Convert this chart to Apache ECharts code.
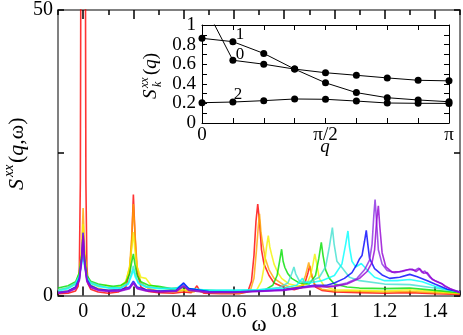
<!DOCTYPE html>
<html>
<head>
<meta charset="utf-8">
<script src="https://cdn.jsdelivr.net/npm/echarts/dist/echarts.min.js"></script>
<style>
  body { margin: 0; background: #fff; }
  #chart { width: 463px; height: 335px; }
</style>
</head>
<body>
<div id="chart"></div>
<script>
// S^xx(q,w) spectra, one curve per q = k*pi/8, pairs of [omega, S]
const sRed = [[-0.1,0.3],[-0.06,0.4],[-0.03,0.8],[-0.02,1.6],[-0.015,5],[-0.011,20],[-0.009,60],[0.009,60],[0.011,20],[0.015,5],[0.02,2],[0.03,1.1],[0.06,0.6],[0.1,0.4],[0.14,0.6],[0.17,1.5],[0.185,4],[0.193,9],[0.2,17.7],[0.207,10],[0.215,4],[0.23,1.5],[0.26,0.7],[0.3,0.5],[0.36,0.4],[0.4,0.6],[0.43,0.5],[0.445,1.2],[0.453,1.7],[0.462,1.0],[0.48,0.4],[0.55,0.3],[0.62,0.3],[0.655,0.6],[0.67,2.5],[0.68,7],[0.688,13],[0.695,16],[0.702,13],[0.71,8],[0.72,5.5],[0.74,3.5],[0.76,2.2],[0.8,1.4],[0.84,1.0],[0.87,1.4],[0.885,2.5],[0.895,4],[0.902,5.2],[0.91,3.5],[0.925,1.5],[0.95,0.9],[1.0,0.6],[1.1,0.5],[1.2,0.4],[1.3,0.5],[1.4,0.3],[1.5,0.2]];
const sOrange = [[-0.1,0.6],[-0.06,0.8],[-0.03,1.4],[-0.015,3],[-0.006,8],[0,15.3],[0.006,8],[0.015,3.2],[0.03,1.8],[0.06,1.2],[0.1,0.9],[0.14,1.0],[0.17,2.2],[0.185,5],[0.193,10],[0.2,16],[0.207,10.5],[0.215,5],[0.23,2.2],[0.26,1.2],[0.3,0.8],[0.36,0.6],[0.4,0.9],[0.44,0.6],[0.453,1.0],[0.47,0.6],[0.55,0.4],[0.62,0.4],[0.665,0.8],[0.68,3],[0.69,8],[0.697,12],[0.702,14.3],[0.708,11],[0.715,9],[0.725,6.5],[0.74,4.5],[0.76,3],[0.8,1.8],[0.84,1.3],[0.87,1.8],[0.885,3.5],[0.898,5.8],[0.906,4.2],[0.92,2],[0.95,1.1],[1.0,0.8],[1.1,0.7],[1.2,0.6],[1.3,0.7],[1.4,0.5],[1.5,0.3]];
const sYellow = [[-0.1,1.0],[-0.06,1.3],[-0.03,2],[-0.015,4],[-0.006,8],[0,12.5],[0.006,7.5],[0.015,3.5],[0.03,2.2],[0.06,1.6],[0.09,1.8],[0.12,1.4],[0.15,1.6],[0.17,2.5],[0.185,5],[0.194,8.5],[0.2,11.1],[0.206,8],[0.215,5],[0.23,3.2],[0.25,3.0],[0.27,1.8],[0.3,1.4],[0.35,1.0],[0.4,1.0],[0.45,0.8],[0.55,0.6],[0.65,0.6],[0.69,0.9],[0.71,2.5],[0.722,5.5],[0.73,8.5],[0.737,10.5],[0.743,8.5],[0.75,7.2],[0.76,5.5],[0.775,4],[0.79,3],[0.82,2],[0.86,1.6],[0.89,2],[0.905,3.5],[0.915,5.5],[0.922,7.3],[0.93,5.5],[0.94,3],[0.96,1.6],[1.0,1.0],[1.1,0.9],[1.2,0.8],[1.3,1.0],[1.4,0.7],[1.5,0.4]];
const sGreen = [[-0.1,1.3],[-0.06,1.7],[-0.03,2.4],[-0.015,4],[-0.006,7],[0,9],[0.006,6.5],[0.015,3.5],[0.03,2.5],[0.06,2],[0.09,1.8],[0.12,1.6],[0.15,1.8],[0.17,2.3],[0.185,3.8],[0.194,6],[0.2,7.3],[0.206,5.5],[0.215,3.5],[0.23,2.4],[0.26,1.8],[0.3,1.6],[0.35,1.2],[0.4,1.4],[0.45,1.0],[0.55,0.8],[0.65,0.7],[0.72,0.9],[0.755,1.8],[0.772,3.5],[0.782,6],[0.79,8.1],[0.796,6],[0.803,4.9],[0.815,3.8],[0.83,3],[0.86,2.2],[0.9,2],[0.925,3.5],[0.938,6.5],[0.948,9.3],[0.955,7],[0.965,4.5],[0.98,3],[1.0,2],[1.05,1.5],[1.1,1.3],[1.2,1.2],[1.3,1.3],[1.4,0.9],[1.5,0.5]];
const sTurq = [[-0.1,1.0],[-0.06,1.4],[-0.03,2.2],[-0.015,3.5],[-0.006,6],[0,7.5],[0.006,5.5],[0.015,3.2],[0.03,2.3],[0.06,1.8],[0.1,1.4],[0.15,1.4],[0.18,2.2],[0.193,4],[0.2,5.2],[0.207,3.8],[0.22,2.3],[0.25,1.6],[0.3,1.3],[0.37,1.2],[0.4,1.8],[0.42,1.1],[0.5,0.9],[0.6,0.9],[0.7,1.0],[0.78,1.4],[0.815,2.2],[0.83,3.8],[0.839,5],[0.846,3.8],[0.86,2.6],[0.88,2.2],[0.91,2.6],[0.94,3.2],[0.965,5],[0.98,8.5],[0.992,11.9],[0.999,9],[1.01,6],[1.03,4.9],[1.06,3.2],[1.1,2.6],[1.2,2.0],[1.3,1.9],[1.4,1.3],[1.5,0.6]];
const sCyan = [[-0.1,0.8],[-0.06,1.2],[-0.03,2],[-0.015,3.3],[-0.006,5.5],[0,7],[0.006,5],[0.015,3],[0.03,2.1],[0.06,1.6],[0.1,1.3],[0.15,1.3],[0.18,2],[0.193,3.5],[0.2,4.5],[0.207,3.3],[0.22,2.1],[0.25,1.5],[0.3,1.2],[0.37,1.2],[0.4,2.1],[0.42,1.2],[0.5,0.9],[0.6,0.9],[0.7,1.0],[0.8,1.3],[0.85,1.8],[0.865,2.6],[0.873,3],[0.88,2.4],[0.9,2.2],[0.95,2.6],[1.0,3.5],[1.03,5.5],[1.045,9],[1.054,11.3],[1.06,8.5],[1.07,6],[1.085,5],[1.107,5.6],[1.13,4.5],[1.16,3.2],[1.2,2.6],[1.25,2.6],[1.3,2.8],[1.35,2.4],[1.4,1.6],[1.45,1.0],[1.5,0.6]];
const sBlue = [[-0.1,0.5],[-0.06,0.8],[-0.03,1.5],[-0.015,3],[-0.006,6.5],[0,11],[0.006,6],[0.015,2.8],[0.03,1.7],[0.06,1.1],[0.1,0.9],[0.15,1.0],[0.185,1.5],[0.2,2.5],[0.215,1.5],[0.25,1.0],[0.3,0.8],[0.37,0.9],[0.4,2.2],[0.42,1.2],[0.5,0.7],[0.6,0.6],[0.7,0.8],[0.8,1.0],[0.87,1.5],[0.92,1.8],[0.97,1.8],[1.0,2.2],[1.04,3],[1.07,4],[1.09,5.5],[1.1,6.4],[1.11,7],[1.12,9.5],[1.127,11.4],[1.133,9],[1.14,6.5],[1.16,4.7],[1.19,3.6],[1.22,3],[1.26,3.2],[1.3,3.7],[1.33,3.3],[1.37,2.6],[1.4,2],[1.45,1.1],[1.5,0.6]];
const sViolet = [[-0.1,0.5],[-0.06,0.7],[-0.03,1.3],[-0.015,2.8],[-0.006,6.5],[0,11],[0.006,6],[0.015,2.6],[0.03,1.5],[0.06,1.0],[0.1,0.8],[0.15,0.9],[0.185,1.3],[0.2,2.3],[0.215,1.3],[0.25,0.9],[0.3,0.7],[0.37,0.8],[0.4,1.8],[0.42,1.0],[0.5,0.6],[0.6,0.6],[0.7,0.8],[0.8,1.0],[0.87,1.4],[0.92,1.7],[0.97,1.6],[1.0,1.7],[1.05,2.2],[1.09,3],[1.12,4.5],[1.14,6.2],[1.15,9],[1.157,14],[1.162,16.8],[1.168,13],[1.175,8],[1.19,5.5],[1.21,4.4],[1.24,4],[1.27,4.2],[1.3,4.6],[1.32,4.4],[1.335,4.8],[1.35,4.0],[1.36,4.3],[1.38,3.2],[1.4,2.6],[1.43,2.0],[1.46,1.2],[1.5,0.6]];
const sPurple = [[-0.1,0.4],[-0.06,0.6],[-0.03,1.2],[-0.015,2.6],[-0.006,6],[0,10.5],[0.006,5.5],[0.015,2.4],[0.03,1.4],[0.06,0.9],[0.1,0.7],[0.15,0.8],[0.185,1.2],[0.2,2.1],[0.215,1.2],[0.25,0.8],[0.3,0.6],[0.37,0.7],[0.4,1.6],[0.42,0.9],[0.5,0.5],[0.6,0.5],[0.7,0.7],[0.8,0.9],[0.87,1.3],[0.92,1.6],[0.97,1.5],[1.0,1.6],[1.05,2],[1.1,3],[1.13,4.2],[1.15,5.8],[1.16,8],[1.168,13],[1.175,15.7],[1.181,12],[1.19,7.5],[1.205,5],[1.23,4.1],[1.26,4.2],[1.29,4.5],[1.31,4.6],[1.325,4.2],[1.34,4.7],[1.355,3.9],[1.37,4.0],[1.39,2.8],[1.41,2.4],[1.43,2.0],[1.44,1.6],[1.47,1.0],[1.5,0.5]];

// inset: S_k^xx(q) at q = k*pi/8, k = 0..8
const qIdx = [0, 1, 2, 3, 4, 5, 6, 7, 8];
const sk0 = [1.25, 0.64, 0.60, 0.55, 0.513, 0.487, 0.46, 0.436, 0.43];
const sk1 = [0.864, 0.83, 0.71, 0.55, 0.41, 0.31, 0.258, 0.235, 0.217];
const sk2 = [0.207, 0.214, 0.228, 0.245, 0.242, 0.224, 0.204, 0.201, 0.2];

const xLabels = [0, 0.2, 0.4, 0.6, 0.8, 1, 1.2, 1.4];
const yLabels = [0, 50];
const insetYLabels = [0, 0.2, 0.4, 0.6, 0.8, 1];
const insetXLabels = { 0: '0', 4: 'π/2', 8: 'π' };

const FONT = 'Liberation Serif';
const frameLine = { color: '#808080', width: 2 };

const chart = echarts.init(document.getElementById('chart'), null, { renderer: 'canvas' });

const spectra = [
  [sRed, '#ff0000'], [sOrange, '#ffa500'], [sYellow, '#f2f200'], [sGreen, '#00e000'],
  [sTurq, '#40e0d0'], [sCyan, '#00ffff'], [sBlue, '#0000ff'], [sViolet, '#8a2be2'], [sPurple, '#9400d3']
];

function mainX(pos, ticks, len, labels, line) {
  return {
    type: 'value', gridIndex: 0, position: pos, min: -0.1, max: 1.5, interval: 0.1,
    axisLine: { show: line, onZero: false, lineStyle: frameLine },
    axisTick: Object.assign({ show: true, inside: true, length: len, lineStyle: { color: '#000', width: 1.5 } },
      ticks ? { customValues: ticks } : {}),
    axisLabel: labels ? {
      show: true, customValues: labels, margin: 6, color: '#000', fontSize: 20, fontFamily: FONT,
      formatter: v => String(Math.round(v * 10) / 10)
    } : { show: false },
    splitLine: { show: false }
  };
}

function insetX(pos, labels) {
  return {
    type: 'value', gridIndex: 1, position: pos, min: 0, max: 8, interval: 1,
    axisLine: { show: true, onZero: false, lineStyle: { color: '#000', width: 1 } },
    axisTick: { inside: true, length: 5, lineStyle: { color: '#000' } },
    axisLabel: labels ? {
      customValues: [0, 4, 8], margin: 3, color: '#000', fontSize: 19, fontFamily: FONT,
      formatter: v => insetXLabels[v]
    } : { show: false },
    splitLine: { show: false }
  };
}

function yAx(grid, pos, max, interval, len, labels, lineStyle, fontSize, margin) {
  return {
    type: 'value', gridIndex: grid, position: pos, min: 0, max: max, interval: interval,
    axisLine: { show: true, onZero: false, lineStyle: lineStyle },
    axisTick: { inside: true, length: len, lineStyle: { color: '#000', width: grid === 0 ? 1.5 : 1 } },
    axisLabel: labels ? {
      customValues: labels, margin: margin, color: '#000', fontSize: fontSize, fontFamily: FONT,
      formatter: v => String(Math.round(v * 10) / 10)
    } : { show: false },
    splitLine: { show: false }
  };
}

const option = {
  animation: false,
  backgroundColor: '#fff',
  grid: [
    { left: 58, top: 8, width: 402, height: 287.5 },
    { left: 202, top: 25, width: 247, height: 98 }
  ],
  xAxis: [
    mainX('bottom', null, 5, xLabels, true),
    mainX('top', null, 5, null, true),
    mainX('bottom', xLabels, 9, null, false),
    mainX('top', xLabels, 9, null, false),
    insetX('bottom', true),
    insetX('top', false)
  ],
  yAxis: [
    yAx(0, 'left', 50, 25, 6, yLabels, frameLine, 20, 5),
    yAx(0, 'right', 50, 25, 6, null, frameLine),
    yAx(1, 'left', 1, 0.1, 5, insetYLabels, { color: '#000', width: 1 }, 19, 6),
    yAx(1, 'right', 1, 0.1, 5, null, { color: '#000', width: 1 })
  ],
  series: spectra.map(([d, c]) => ({
    type: 'line', xAxisIndex: 0, yAxisIndex: 0, data: d, showSymbol: false, clip: true,
    lineStyle: { color: c, width: 1.6, opacity: 0.8 }
  })).concat([sk0, sk1, sk2].map(vals => ({
    type: 'line', xAxisIndex: 4, yAxisIndex: 2, clip: true,
    data: qIdx.map((k, i) => [k, vals[i]]),
    symbol: 'circle', symbolSize: 7, showAllSymbol: true,
    itemStyle: { color: '#000' }, lineStyle: { color: '#000', width: 1 }
  }))),
  graphic: [
    {
      type: 'group', x: 17, y: 152, rotation: Math.PI / 2,
      children: [
        { type: 'text', x: -38, y: 0, style: { text: 'S', font: 'italic 22px ' + FONT, fill: '#000', verticalAlign: 'middle' } },
        { type: 'text', x: -25, y: -8, style: { text: 'xx', font: 'italic 14px ' + FONT, fill: '#000', verticalAlign: 'middle' } },
        { type: 'text', x: -11, y: 0, style: {
          text: '({i|q},ω)', font: '22px ' + FONT, fill: '#000', verticalAlign: 'middle',
          rich: { i: { fontStyle: 'italic', fontSize: 22, fontFamily: FONT } }
        } }
      ]
    },
    {
      type: 'group', x: 151, y: 76, rotation: Math.PI / 2,
      children: [
        { type: 'text', x: -23, y: 0, style: { text: 'S', font: 'italic 19px ' + FONT, fill: '#000', verticalAlign: 'middle' } },
        { type: 'text', x: -12, y: -6, style: { text: 'xx', font: 'italic 12px ' + FONT, fill: '#000', verticalAlign: 'middle' } },
        { type: 'text', x: -11, y: 7, style: { text: 'k', font: 'italic 12px ' + FONT, fill: '#000', verticalAlign: 'middle' } },
        { type: 'text', x: 1, y: 0, style: {
          text: '({i|q})', font: '19px ' + FONT, fill: '#000', verticalAlign: 'middle',
          rich: { i: { fontStyle: 'italic', fontSize: 19, fontFamily: FONT } }
        } }
      ]
    },
    { type: 'text', x: 259, y: 325, style: { text: 'ω', font: '23px ' + FONT, fill: '#000', align: 'center', verticalAlign: 'middle' } },
    { type: 'text', x: 325, y: 147, style: { text: 'q', font: 'italic 19px ' + FONT, fill: '#000', align: 'center', verticalAlign: 'middle' } },
    { type: 'text', x: 240, y: 35, style: { text: '1', font: '17px ' + FONT, fill: '#000', align: 'center', verticalAlign: 'middle' } },
    { type: 'text', x: 240, y: 55, style: { text: '0', font: '17px ' + FONT, fill: '#000', align: 'center', verticalAlign: 'middle' } },
    { type: 'text', x: 238, y: 95, style: { text: '2', font: '17px ' + FONT, fill: '#000', align: 'center', verticalAlign: 'middle' } }
  ]
};

chart.setOption(option);
</script>
</body>
</html>
